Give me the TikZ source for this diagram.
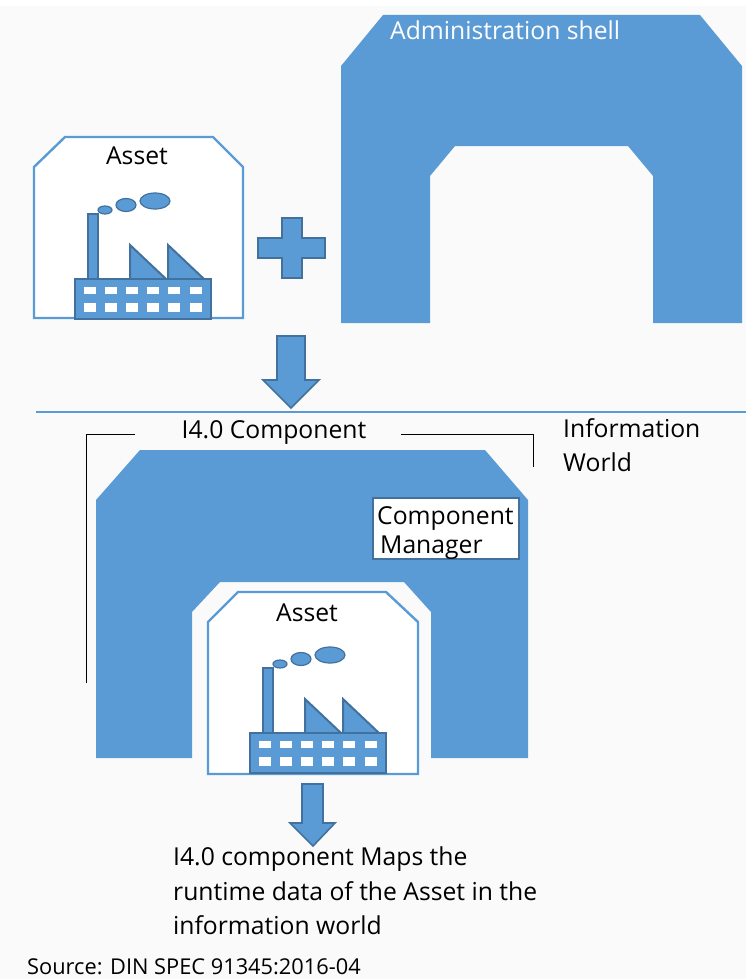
\documentclass[tikz,border=0pt]{standalone}
\usepackage{fontspec}
\setmainfont{Open Sans}
\definecolor{shellblue}{HTML}{5B9BD5}
\definecolor{edgeblue}{HTML}{41719C}
\definecolor{paper}{HTML}{FAFAFA}
\begin{document}
\begin{tikzpicture}[x=1pt,y=-1pt,
  shell/.style={fill=shellblue,draw=none},
  assetbox/.style={fill=white,draw=shellblue,line width=2.4pt,line join=miter},
  blockarrow/.style={fill=shellblue,draw=edgeblue,line width=1.6pt},
  factorypart/.style={fill=shellblue,draw=edgeblue,line width=2pt},
  lbl/.style={font=\fontsize{24.7}{30}\selectfont,text=black,inner sep=0pt},
  rule/.style={draw=black,line width=0.9pt},
  factory/.pic={
    \fill[factorypart] (87.5,214) rectangle (98,279);
    \fill[factorypart] (130,245) -- (130,279) -- (166,279) -- cycle;
    \fill[factorypart] (168,245) -- (168,279) -- (204,279) -- cycle;
    \fill[factorypart] (75,279) rectangle (211,319);
    \foreach \wx in {84,105,126,147,168,190}{
      \fill[white] (\wx,287) rectangle +(12,7);
      \fill[white] (\wx,303) rectangle +(12,9);
    }
    \fill[factorypart,line width=1.2pt] (105,210) ellipse [x radius=7,y radius=4];
    \fill[factorypart,line width=1.2pt] (126,205) ellipse [x radius=10,y radius=6.5];
    \fill[factorypart,line width=1.2pt] (155,201) ellipse [x radius=15,y radius=8];
  }]
\useasboundingbox (0,0) rectangle (746,979);
\fill[white] (0,0) rectangle (746,979);
\fill[paper] (0,6) rectangle (746,979);
% top shell
\fill[shell] (383,15) -- (700,15) -- (742,66) -- (742,323) -- (653,323) -- (653,176)
  -- (628,146) -- (455,146) -- (430,176) -- (430,323) -- (341,323) -- (341,66) -- cycle;
\node[lbl,text=white,anchor=base west] (shelltitle) at (390,40) {Administration shell};
% top asset
\draw[assetbox] (65,137) -- (213,137) -- (243,167) -- (243,318) -- (34,318) -- (34,167) -- cycle;
\pic at (0,0) {factory};
\node[lbl,anchor=base] (asset1) at (137,164) {Asset};
% plus
\fill[blockarrow] (282,218) -- (302,218) -- (302,238) -- (325,238) -- (325,258) -- (302,258)
  -- (302,278) -- (282,278) -- (282,258) -- (258,258) -- (258,238) -- (282,238) -- cycle;
% arrow down
\fill[blockarrow] (277,336) -- (305,336) -- (305,380) -- (319,380) -- (291,408) -- (263,380) -- (277,380) -- cycle;
% separator
\coordinate (sepl) at (36,412);
\coordinate (sepr) at (746,412);
\draw[shellblue,line width=1.2pt] (sepl) -- (sepr);
% component title and brackets
\node[lbl,anchor=base] (comptitle) at (274,438) {I4.0 Component};
\node[lbl,anchor=base west,align=left] (infoworld) at (563,437) {Information};
\node[lbl,anchor=base west] (infoworld2) at (563,471) {World};
\coordinate (bl) at (86,683);
\coordinate (br) at (533,467);
\draw[rule] (135,434) -| (bl);
\draw[rule] (401,434) -| (br);
% lower shell
\fill[shell] (140,450) -- (485,450) -- (528,500) -- (528,758) -- (431,758) -- (431,612)
  -- (404,582) -- (220,582) -- (192,612) -- (192,758) -- (96,758) -- (96,500) -- cycle;
% component manager
\node[draw=edgeblue,fill=white,line width=2pt,minimum width=146pt,minimum height=61pt,anchor=north west,inner sep=0pt] (mgr) at (372,497) {};
\node[lbl,anchor=base west] (mgr1) at (377,524) {Component};
\node[lbl,anchor=base west] (mgr2) at (380,553) {Manager};
% lower asset
\draw[assetbox] (238,592) -- (386,592) -- (418,622) -- (418,774) -- (208,774) -- (208,622) -- cycle;
\pic at (175,454) {factory};
\node[lbl,anchor=base] (asset2) at (307,621) {Asset};
% arrow out
\fill[blockarrow] (302,784) -- (323,784) -- (323,823) -- (335,823) -- (313,846) -- (290,823) -- (302,823) -- cycle;
% caption
\node[lbl,anchor=base west] (cap1) at (173,865) {I4.0 component Maps the};
\node[lbl,anchor=base west] (cap2) at (173,900) {runtime data of the Asset in the};
\node[lbl,anchor=base west] (cap3) at (173,934) {information world};
\node[lbl,anchor=base west,font=\fontsize{21.8}{26}\selectfont] (source) at (27,974) {Source: DIN SPEC 91345:2016-04};
\end{tikzpicture}
\end{document}
